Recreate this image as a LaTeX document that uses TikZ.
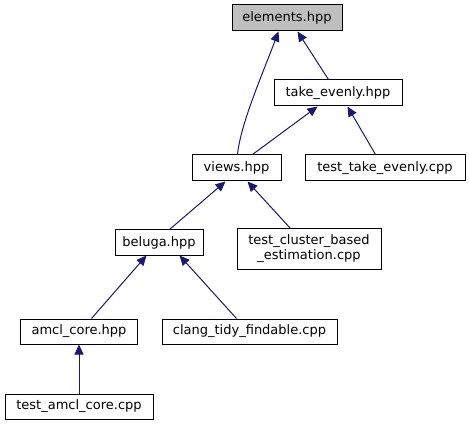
\documentclass[tikz,border=0pt]{standalone}
\usepackage{fontspec}
\setmainfont{DejaVu Sans}
\usetikzlibrary{arrows.meta,calc}
\definecolor{edgeblue}{HTML}{191970}
\definecolor{hlgray}{HTML}{BFBFBF}
\tikzset{
  file/.style={draw=black, line width=1pt, fill=white, inner sep=0pt, align=center,
    font=\fontsize{13}{15}\selectfont},
  edge/.style={draw=edgeblue, line width=1pt, -{Triangle[length=10pt,width=9pt]}},
}
\begin{document}
\begin{tikzpicture}[x=1pt,y=-1pt]
\useasboundingbox[fill=white] (0,0) rectangle (469,425);
\node[file, fill=hlgray, minimum width=110pt, minimum height=26pt] (elem) at (287,18) {elements.hpp};
\node[file, minimum width=128pt, minimum height=26pt] (take) at (338,93) {take\_evenly.hpp};
\node[file, minimum width=89pt, minimum height=26pt] (views) at (236.5,168) {views.hpp};
\node[file, minimum width=160pt, minimum height=26pt] (tte) at (385,168) {test\_take\_evenly.cpp};
\node[file, minimum width=144pt, minimum height=40pt] (tcb) at (309,249) {test\_cluster\_based\\\_estimation.cpp};
\node[file, minimum width=88pt, minimum height=25pt] (beluga) at (159,242.5) {beluga.hpp};
\node[file, minimum width=117pt, minimum height=25pt] (amcl) at (79,331.5) {amcl\_core.hpp};
\node[file, minimum width=148pt, minimum height=25pt] (tac) at (79,406.5) {test\_amcl\_core.cpp};
\node[file, minimum width=175pt, minimum height=25pt] (clang) at (249.5,331.5) {clang\_tidy\_findable.cpp};

\draw[edge] ($(views.north west)+(46,0)$) .. controls ($(views.north west)+(49,-30)$) and ($(elem.south west)+(30,45)$) .. ($(elem.south west)+(47,0)$);
\draw[edge] ($(take.north west)+(55,0)$) -- ($(elem.south west)+(66,0)$);
\draw[edge] ($(views.north west)+(61,0)$) -- ($(take.south west)+(44,0)$);
\draw[edge] ($(tte.north west)+(71,0)$) -- ($(take.south west)+(74,0)$);
\draw[edge] ($(beluga.north west)+(55,0)$) -- ($(views.south west)+(34,0)$);
\draw[edge] ($(tcb.north west)+(54,0)$) -- ($(views.south west)+(56,0)$);
\draw[edge] ($(amcl.north west)+(71.5,0)$) -- ($(beluga.south west)+(32,0)$);
\draw[edge] ($(clang.north west)+(75,0)$) -- ($(beluga.south west)+(65,0)$);
\draw[edge] (tac.north) -- (amcl.south);
\end{tikzpicture}
\end{document}
